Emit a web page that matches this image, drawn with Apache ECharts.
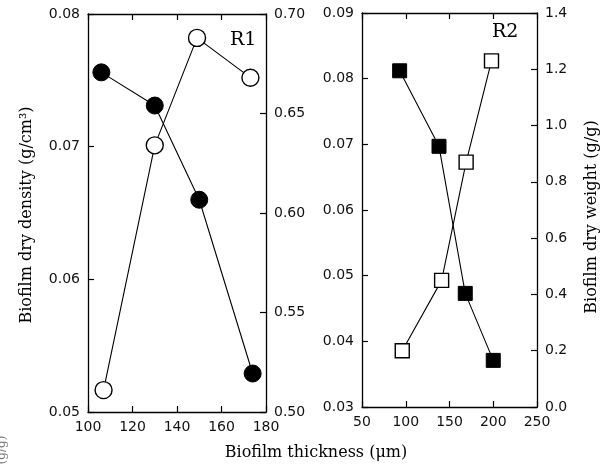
<!DOCTYPE html>
<html>
<head>
<meta charset="utf-8">
<title>Biofilm dry density / dry weight</title>
<script src="https://cdn.jsdelivr.net/npm/echarts@6/dist/echarts.min.js"></script>
<style>
    html, body { margin: 0; padding: 0; background: #fff; }
    #chart { width: 602px; height: 471px; }
</style>
</head>
<body>
<div id="chart"></div>
<script>
// ========== 数据 ==========
// R1: 圆点 (实心 = 密度, 空心 = 干重)
const r1DensityX = [106, 130, 150, 174];
const r1Density = [0.0756, 0.0731, 0.0660, 0.0529];
const r1WeightX = [107, 130, 149, 173];
const r1Weight = [0.511, 0.634, 0.688, 0.668];

// R2: 方块 (实心 = 密度, 空心 = 干重)
const r2DensityX = [93, 138, 168, 200];
const r2Density = [0.0812, 0.0697, 0.0473, 0.0371];
const r2WeightX = [96, 141, 169, 198];
const r2Weight = [0.20, 0.45, 0.87, 1.23];

// ========== 样式 ==========
const TICK_FONT = 'DejaVu Sans';
const TITLE_FONT = 'DejaVu Serif';
const TITLE_STYLE = '16px ' + TITLE_FONT;

function zip(xs, ys) {
    return xs.map((x, i) => [x, ys[i]]);
}

function valueAxis(gridIndex, position, min, max, interval, digits, showLabel) {
    return {
        type: 'value',
        gridIndex: gridIndex,
        position: position,
        min: min,
        max: max,
        interval: interval,
        splitLine: { show: false },
        axisLine: { show: true, onZero: false, lineStyle: { color: '#000', width: 1.3 } },
        axisTick: { show: true, inside: true, length: 6, lineStyle: { color: '#000', width: 1.2 } },
        axisLabel: {
            show: showLabel,
            color: '#111',
            fontFamily: TICK_FONT,
            fontSize: 14,
            margin: 8,
            formatter: v => v.toFixed(digits)
        }
    };
}

function lineSeries(xAxisIndex, yAxisIndex, data, symbol, size, filled) {
    return {
        type: 'line',
        xAxisIndex: xAxisIndex,
        yAxisIndex: yAxisIndex,
        data: data,
        symbol: symbol,
        symbolSize: size,
        showAllSymbol: true,
        lineStyle: { color: '#000', width: 1.1 },
        itemStyle: filled
            ? { color: '#000', borderColor: '#000', borderWidth: 1 }
            : { color: '#fff', borderColor: '#000', borderWidth: 1.4 },
        z: filled ? 3 : 4
    };
}

// ========== 图表 ==========
const chart = echarts.init(document.getElementById('chart'));

const option = {
    animation: false,
    backgroundColor: '#fff',
    grid: [
        { left: 88, top: 14, width: 178, height: 398 },
        { left: 362, top: 13, width: 175, height: 394 }
    ],
    xAxis: [
        valueAxis(0, 'bottom', 100, 180, 20, 0, true),
        valueAxis(0, 'top', 100, 180, 20, 0, false),
        valueAxis(1, 'bottom', 50, 250, 50, 0, true),
        valueAxis(1, 'top', 50, 250, 50, 0, false)
    ],
    yAxis: [
        valueAxis(0, 'left', 0.05, 0.08, 0.01, 2, true),
        valueAxis(0, 'right', 0.50, 0.70, 0.05, 2, true),
        valueAxis(1, 'left', 0.03, 0.09, 0.01, 2, true),
        valueAxis(1, 'right', 0.0, 1.4, 0.2, 1, true)
    ],
    series: [
        lineSeries(0, 0, zip(r1DensityX, r1Density), 'circle', 17, true),
        lineSeries(0, 1, zip(r1WeightX, r1Weight), 'circle', 17, false),
        lineSeries(2, 2, zip(r2DensityX, r2Density), 'rect', 14, true),
        lineSeries(2, 3, zip(r2WeightX, r2Weight), 'rect', 14, false)
    ],
    graphic: [
        {
            type: 'text', left: 230, top: 31,
            style: { text: 'R1', font: '19px ' + TITLE_FONT, fill: '#000' }
        },
        {
            type: 'text', left: 492, top: 23,
            style: { text: 'R2', font: '19px ' + TITLE_FONT, fill: '#000' }
        },
        {
            type: 'text', x: 316, y: 453,
            style: {
                text: 'Biofilm thickness (μm)', font: TITLE_STYLE,
                fill: '#000', align: 'center', verticalAlign: 'middle'
            }
        },
        {
            type: 'text', x: 27, y: 215, rotation: Math.PI / 2,
            style: {
                text: 'Biofilm dry density (g/cm³)', font: TITLE_STYLE,
                fill: '#000', align: 'center', verticalAlign: 'middle'
            }
        },
        {
            type: 'text', x: 592, y: 217, rotation: Math.PI / 2,
            style: {
                text: 'Biofilm dry weight (g/g)', font: TITLE_STYLE,
                fill: '#000', align: 'center', verticalAlign: 'middle'
            }
        },
        {
            type: 'text', x: 2, y: 450, rotation: Math.PI / 2,
            style: {
                text: '(g/g)', font: '12px ' + TITLE_FONT,
                fill: '#777', align: 'center', verticalAlign: 'middle'
            }
        }
    ]
};

chart.setOption(option);
</script>
</body>
</html>
